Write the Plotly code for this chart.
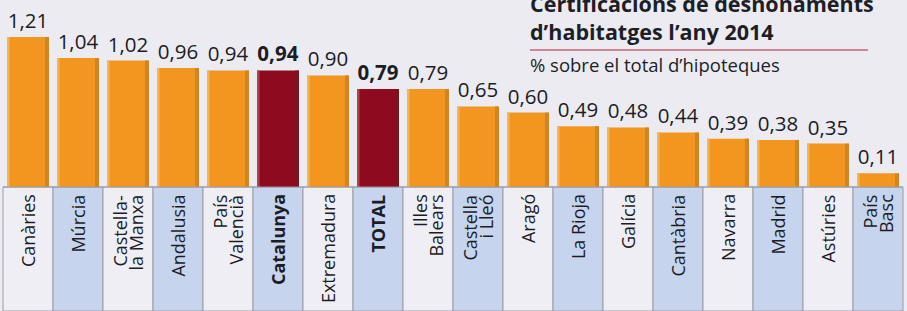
import plotly.graph_objects as go

categories = ["Canàries", "Múrcia", "Castella-<br>la Manxa", "Andalusia", "País<br>Valencià",
              "Catalunya", "Extremadura", "TOTAL", "Illes<br>Balears", "Castella<br>i Lleó",
              "Aragó", "La Rioja", "Galícia", "Cantàbria", "Navarra", "Madrid", "Astúries",
              "País<br>Basc"]
values = [1.21, 1.04, 1.02, 0.96, 0.94, 0.94, 0.90, 0.79, 0.79, 0.65,
          0.60, 0.49, 0.48, 0.44, 0.39, 0.38, 0.35, 0.11]
highlight = ["Catalunya", "TOTAL"]

BG = "#ECEBF2"
ORANGE = "#F2961F"
ORANGE_L = "#F7B455"
ORANGE_D = "#C98225"
RED = "#8E0A1F"
RED_L = "#B0424F"
RED_D = "#6E1A22"
TXT = "#1c1c25"
FONT = "Open Sans"

n = len(categories)
xs = list(range(n))
is_hi = [c in highlight for c in categories]
main_cols = [RED if h else ORANGE for h in is_hi]
light_cols = [RED_L if h else ORANGE_L for h in is_hi]
dark_cols = [RED_D if h else ORANGE_D for h in is_hi]
labels = [("<b>%s</b>" % f"{v:.2f}".replace(".", ",")) if h else f"{v:.2f}".replace(".", ",")
          for v, h in zip(values, is_hi)]

fig = go.Figure()
fig.add_trace(go.Bar(x=xs, y=values, width=0.84, offset=-0.42, marker=dict(color=main_cols, line=dict(width=0)),
                     text=labels, textposition="outside", constraintext="none", cliponaxis=False,
                     textfont=dict(family=FONT, size=20.5, color=TXT), hoverinfo="skip"))
fig.add_trace(go.Bar(x=xs, y=values, width=0.05, offset=-0.42, marker=dict(color=light_cols, line=dict(width=0)),
                     hoverinfo="skip"))
fig.add_trace(go.Bar(x=xs, y=values, width=0.08, offset=0.34, marker=dict(color=dark_cols, line=dict(width=0), opacity=0.85),
                     hoverinfo="skip"))

shapes = []
BOTTOM = -1.0
for i in xs:
    fill = "#C7D4EE" if i % 2 == 1 else "#EEEEF4"
    shapes.append(dict(type="rect", xref="x", yref="y", x0=i - 0.5, x1=i + 0.5, y0=BOTTOM, y1=0,
                       fillcolor=fill, line=dict(color="#9C9CA6", width=1), layer="below"))
shapes.append(dict(type="line", xref="x", yref="y", x0=-0.5, x1=n - 0.5, y0=0, y1=0,
                   line=dict(color="#9C9CA6", width=1)))
# rule under title
shapes.append(dict(type="line", xref="paper", yref="paper", x0=530 / 907, x1=868 / 907,
                   y0=1 - 50 / 311, y1=1 - 50 / 311, line=dict(color="#C9607A", width=1.5)))

annotations = []
for i, c in enumerate(categories):
    parts = c.split("<br>")
    k = len(parts)
    for j, p in enumerate(parts):
        t = f"<b>{p}</b>" if c in highlight else p
        shift = (j - (k - 1) / 2) * 16
        annotations.append(dict(x=i, y=-0.045, xref="x", yref="y", text=t, textangle=-90,
                                showarrow=False, xanchor="center", yanchor="top", xshift=shift,
                                font=dict(family=FONT, size=18, color=TXT)))

annotations.append(dict(x=528 / 907, y=1 - 20 / 311, xref="paper", yref="paper", xanchor="left",
                        yanchor="bottom", showarrow=False, align="left",
                        text="<b>Certificacions de desnonaments</b>",
                        font=dict(family=FONT, size=21.5, color="#1e1e26")))
annotations.append(dict(x=528 / 907, y=1 - 48 / 311, xref="paper", yref="paper", xanchor="left",
                        yanchor="bottom", showarrow=False, align="left",
                        text="<b>d’habitatges l’any 2014</b>",
                        font=dict(family=FONT, size=21.5, color="#1e1e26")))
annotations.append(dict(x=528 / 907, y=1 - 79 / 311, xref="paper", yref="paper", xanchor="left",
                        yanchor="bottom", showarrow=False, align="left",
                        text="% sobre el total d’hipoteques",
                        font=dict(family=FONT, size=18.5, color="#1e1e26")))

fig.update_layout(
    width=907, height=311, margin=dict(l=0, r=0, t=0, b=0),
    paper_bgcolor=BG, plot_bgcolor=BG, showlegend=False, barmode="overlay",
    xaxis=dict(range=[-0.56, 17.58], visible=False, fixedrange=True),
    yaxis=dict(range=[BOTTOM, 187 / 124], visible=False, fixedrange=True),
    shapes=shapes, annotations=annotations,
)
fig.write_html("out.html", config={"displayModeBar": False},
               post_script="document.body.style.margin='0';document.body.style.overflow='hidden';")
